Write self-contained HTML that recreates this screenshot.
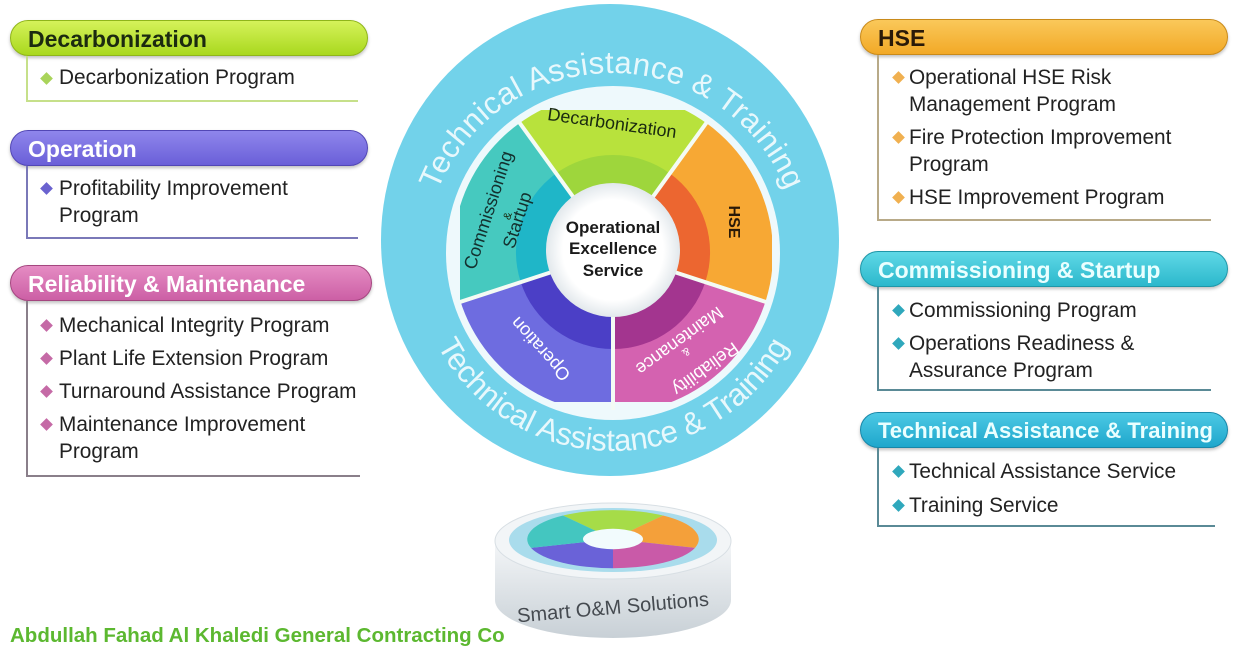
<!DOCTYPE html>
<html><head><meta charset="utf-8"><style>
body{margin:0;width:1240px;height:657px;background:#fff;position:relative;overflow:hidden;font-family:"Liberation Sans",sans-serif;}
.pill{position:absolute;height:36px;border-radius:19px;font-weight:bold;font-size:23px;line-height:36px;padding-left:17px;box-sizing:border-box;box-shadow:0 2px 3px rgba(0,0,0,.25);white-space:nowrap;}
.body{position:absolute;border-left:2px solid;border-bottom:2px solid;box-sizing:border-box;}
.it{position:absolute;font-size:20.8px;color:#222;line-height:27px;white-space:nowrap;}
.d{position:absolute;width:9px;height:9px;transform:rotate(45deg);}
</style></head><body>

<!-- LEFT -->
<div class="pill" style="left:10px;top:20px;width:358px;background:linear-gradient(#d5f25a,#a9d81e);border:1.5px solid #8fb51a;color:#1b2a10;">Decarbonization</div>
<div class="body" style="left:26px;top:56px;width:332px;height:46px;border-color:#c6e08a;"></div>
<div class="d" style="left:42px;top:74px;background:#a9d45a"></div>
<div class="it" style="left:59px;top:64px;">Decarbonization Program</div>

<div class="pill" style="left:10px;top:130px;width:358px;background:linear-gradient(#8f86ec,#6a5fd8);border:1.5px solid #5247b5;color:#fff;">Operation</div>
<div class="body" style="left:26px;top:166px;width:332px;height:73px;border-color:#7a78b8;"></div>
<div class="d" style="left:42px;top:184px;background:#6a62cf"></div>
<div class="it" style="left:59px;top:175px;">Profitability Improvement<br>Program</div>

<div class="pill" style="left:10px;top:265px;width:362px;background:linear-gradient(#e58cc3,#cc5fa5);border:1.5px solid #a4467f;color:#fff;">Reliability &amp; Maintenance</div>
<div class="body" style="left:26px;top:301px;width:334px;height:176px;border-color:#8a7f8a;"></div>
<div class="d" style="left:42px;top:321px;background:#c56aa6"></div>
<div class="it" style="left:59px;top:312px;">Mechanical Integrity Program</div>
<div class="d" style="left:42px;top:354px;background:#c56aa6"></div>
<div class="it" style="left:59px;top:345px;">Plant Life Extension Program</div>
<div class="d" style="left:42px;top:387px;background:#c56aa6"></div>
<div class="it" style="left:59px;top:378px;">Turnaround Assistance Program</div>
<div class="d" style="left:42px;top:420px;background:#c56aa6"></div>
<div class="it" style="left:59px;top:411px;">Maintenance Improvement<br>Program</div>

<!-- RIGHT -->
<div class="pill" style="left:860px;top:19px;width:368px;background:linear-gradient(#fac85a,#f2a927);border:1.5px solid #c98a1a;color:#2a1a08;">HSE</div>
<div class="body" style="left:877px;top:55px;width:334px;height:166px;border-color:#b8aa88;"></div>
<div class="d" style="left:894px;top:73px;background:#f0b050"></div>
<div class="it" style="left:909px;top:64px;">Operational HSE Risk<br>Management Program</div>
<div class="d" style="left:894px;top:133px;background:#f0b050"></div>
<div class="it" style="left:909px;top:124px;">Fire Protection Improvement<br>Program</div>
<div class="d" style="left:894px;top:193px;background:#f0b050"></div>
<div class="it" style="left:909px;top:184px;">HSE Improvement Program</div>

<div class="pill" style="left:860px;top:251px;width:368px;background:linear-gradient(#5fd8e6,#2cb8cc);border:1.5px solid #1f97a8;color:#eaffff;">Commissioning &amp; Startup</div>
<div class="body" style="left:877px;top:287px;width:334px;height:104px;border-color:#5a8a96;"></div>
<div class="d" style="left:894px;top:306px;background:#2fa8bc"></div>
<div class="it" style="left:909px;top:297px;">Commissioning Program</div>
<div class="d" style="left:894px;top:339px;background:#2fa8bc"></div>
<div class="it" style="left:909px;top:330px;">Operations Readiness &amp;<br>Assurance Program</div>

<div class="pill" style="left:860px;top:412px;width:368px;background:linear-gradient(#4cc9e4,#1ea7cc);border:1.5px solid #1786a8;color:#eaffff;padding-left:17px;font-size:22px;">Technical Assistance &amp; Training</div>
<div class="body" style="left:877px;top:448px;width:338px;height:79px;border-color:#5a8a96;"></div>
<div class="d" style="left:894px;top:467px;background:#2fa8bc"></div>
<div class="it" style="left:909px;top:458px;">Technical Assistance Service</div>
<div class="d" style="left:894px;top:501px;background:#2fa8bc"></div>
<div class="it" style="left:909px;top:492px;">Training Service</div>

<div style="position:absolute;left:10px;top:624px;font-weight:bold;font-size:20.5px;color:#5cb830;">Abdullah Fahad Al Khaledi General Contracting Co</div>

<svg width="1240" height="657" style="position:absolute;left:0;top:0" xmlns="http://www.w3.org/2000/svg">
<defs>
<path id="tp" d="M424,261 A188 188 0 0 1 800,261"/>
<path id="bp" d="M414,252 A199 199 0 0 0 812,252"/>
<radialGradient id="cg"><stop offset="0.75" stop-color="#fff"/><stop offset="1" stop-color="#e2e8ec"/></radialGradient>
<linearGradient id="side" x1="0" y1="0" x2="0" y2="1"><stop offset="0" stop-color="#f4f6f8"/><stop offset="1" stop-color="#c8d0d6"/></linearGradient>
<clipPath id="cc"><circle cx="613" cy="253" r="160"/></clipPath>
<clipPath id="rc"><rect x="460" y="110" width="312" height="292"/></clipPath>
</defs>
<ellipse cx="610" cy="240" rx="229" ry="236" fill="#72d2ea"/>
<circle cx="613" cy="253" r="167" fill="#eef9fc"/>
<text font-size="31" fill="#e8f8fc" font-family="Liberation Sans, sans-serif"><textPath href="#tp" startOffset="50%" text-anchor="middle" textLength="446">Technical Assistance &amp; Training</textPath></text>
<text font-size="31" fill="#e8f8fc" font-family="Liberation Sans, sans-serif"><textPath href="#bp" startOffset="50%" text-anchor="middle" textLength="430">Technical Assistance &amp; Training</textPath></text>

<g clip-path="url(#cc)"><g clip-path="url(#rc)">
<path d="M613,252 L485,76 L741,76 Z" fill="#b8e23c"/>
<path d="M613,252 L741,76 L820,320 Z" fill="#f7a834"/>
<path d="M613,252 L820,320 L820,440 L613,440 Z" fill="#d462b0"/>
<path d="M613,252 L613,440 L400,440 L405,320 Z" fill="#6e6ce0"/>
<path d="M613,252 L405,320 L400,76 L485,76 Z" fill="#46c9bf"/>
</g></g>

<path d="M613,252 L556,173.5 A97 97 0 0 1 670,173.5 Z" fill="#9ed63c"/>
<path d="M613,252 L670,173.5 A97 97 0 0 1 705.3,282 Z" fill="#ec6630"/>
<path d="M613,252 L705.3,282 A97 97 0 0 1 613,349 Z" fill="#a3358f"/>
<path d="M613,252 L613,349 A97 97 0 0 1 520.7,282 Z" fill="#4b3fc6"/>
<path d="M613,252 L520.7,282 A97 97 0 0 1 556,173.5 Z" fill="#1fb6c8"/>
<g stroke="#f4fbf4" stroke-width="4">
<line x1="613" y1="252" x2="519" y2="122"/>
<line x1="613" y1="252" x2="707" y2="122"/>
<line x1="613" y1="252" x2="766" y2="302"/>
<line x1="613" y1="252" x2="613" y2="410"/>
<line x1="613" y1="252" x2="460" y2="302"/>
</g>
<circle cx="613" cy="250" r="67" fill="url(#cg)"/>
<g font-family="Liberation Sans, sans-serif" font-weight="bold" font-size="17" fill="#1a1a1a" text-anchor="middle">
<text x="613" y="233">Operational</text>
<text x="613" y="254">Excellence</text>
<text x="613" y="276">Service</text>
</g>
<g font-family="Liberation Sans, sans-serif" font-size="18" fill="#1a2a10" text-anchor="middle">
<text x="612" y="129" transform="rotate(8 612 124)">Decarbonization</text>
<text transform="translate(729,222) rotate(90)" fill="#2a1a08" font-weight="bold" font-size="16">HSE</text>
<text transform="translate(494,212) rotate(-72)" fill="#13302e">Commissioning</text>
<text transform="translate(511,217) rotate(-72)" font-size="11">&amp;</text>
<text transform="translate(523,222) rotate(-72)" fill="#13302e">Startup</text>
<text transform="translate(545,345) rotate(-132)" fill="#fff">Operation</text>
<text transform="translate(676,336) rotate(144)" fill="#fff">Maintenance</text>
<text transform="translate(684,349) rotate(144)" fill="#fff" font-size="11">&amp;</text>
<text transform="translate(702,364) rotate(144)" fill="#fff">Reliability</text>
</g>

<!-- puck -->
<path d="M495,541 L495,600 A118 38 0 0 0 731,600 L731,541 Z" fill="url(#side)"/>
<ellipse cx="613" cy="541" rx="118" ry="38" fill="#f2f5f7" stroke="#d8dfe4"/>
<ellipse cx="613" cy="540" rx="104" ry="32" fill="#a9dcec"/>
<g transform="translate(613,539) scale(1,0.34)">
<path d="M0,0 L-50,-69 A86 86 0 0 1 50,-69 Z" fill="#a6dc48"/>
<path d="M0,0 L50,-69 A86 86 0 0 1 82,26 Z" fill="#f4a03a"/>
<path d="M0,0 L82,26 A86 86 0 0 1 0,86 Z" fill="#c95aa8"/>
<path d="M0,0 L0,86 A86 86 0 0 1 -82,26 Z" fill="#6a62d8"/>
<path d="M0,0 L-82,26 A86 86 0 0 1 -50,-69 Z" fill="#44c6c0"/>
<circle r="30" fill="#f2fbfd"/>
</g>
<text x="613" y="614" transform="rotate(-5 613 608)" text-anchor="middle" font-family="Liberation Sans, sans-serif" font-size="20" fill="#454a50">Smart O&amp;M Solutions</text>
</svg>
</body></html>
